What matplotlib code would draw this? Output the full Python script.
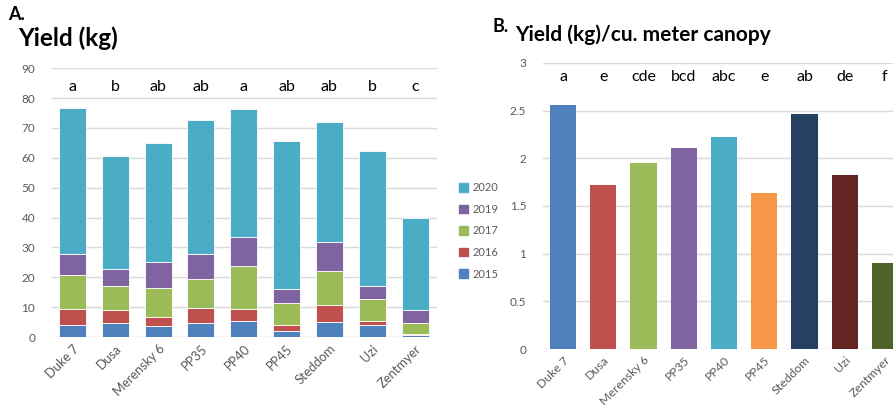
import matplotlib
matplotlib.use("Agg")
from matplotlib import pyplot as plt
from matplotlib.patches import Patch
import numpy as np

plt.rcParams["font.family"] = ["Lato", "DejaVu Sans"]

# cultivars (same order in both panels)
cultivars = ["Duke 7", "Dusa", "Merensky 6", "PP35", "PP40", "PP45", "Steddom", "Uzi", "Zentmyer"]

# panel A: yield (kg) per year, stacked
years = ["2015", "2016", "2017", "2019", "2020"]
yield_2015 = [4.1, 4.6, 3.8, 4.6, 5.2, 2.1, 5.0, 4.0, 0.6]
yield_2016 = [5.2, 4.4, 2.8, 5.2, 4.1, 1.8, 5.6, 1.2, 0.4]
yield_2017 = [11.4, 8.1, 9.8, 9.6, 14.6, 7.5, 11.4, 7.6, 3.7]
yield_2019 = [7.2, 5.6, 8.8, 8.5, 9.7, 4.8, 9.9, 4.4, 4.5]
yield_2020 = [48.8, 38.0, 39.7, 44.9, 42.7, 49.4, 40.0, 45.1, 30.5]
letters_a = ["a", "b", "ab", "ab", "a", "ab", "ab", "b", "c"]

# panel B: yield (kg) per cubic meter canopy
yield_per_m3 = [2.56, 1.72, 1.95, 2.11, 2.22, 1.64, 2.46, 1.83, 0.90]
letters_b = ["a", "e", "cde", "bcd", "abc", "e", "ab", "de", "f"]

year_colors = ["#4F81BD", "#C0504D", "#9BBB59", "#8064A2", "#4BACC6"]
bar_colors_b = ["#4F81BD", "#C0504D", "#9BBB59", "#8064A2", "#4BACC6",
                "#F79646", "#264062", "#632523", "#4F6228"]

grid_col = "#D9D9D9"
tick_col = "#595959"

fig = plt.figure(figsize=(8.93, 4.08), dpi=100)
axA = fig.add_axes([0.0582, 0.174, 0.431, 0.659])
axB = fig.add_axes([0.608, 0.1446, 0.392, 0.701])

x = np.arange(len(cultivars))


def style_axis(ax, xsize):
    for s in ax.spines.values():
        s.set_visible(False)
    ax.tick_params(length=0, colors=tick_col, labelsize=8.5)
    ax.yaxis.grid(True, color=grid_col, linewidth=1)
    ax.set_axisbelow(True)
    ax.set_xticks(x)
    ax.set_xticklabels(cultivars, rotation=45, ha="right", rotation_mode="anchor",
                       fontsize=xsize, color=tick_col)
    ax.tick_params(axis="y", pad=12)
    ax.tick_params(axis="x", pad=4)


# --- panel A ---
stack = [yield_2015, yield_2016, yield_2017, yield_2019, yield_2020]
bottom = np.zeros(len(cultivars))
for vals, col, yr in zip(stack, year_colors, years):
    axA.bar(x, vals, 0.63, bottom=bottom, color=col, edgecolor="white",
            linewidth=0.6, label=yr)
    bottom += np.array(vals)

style_axis(axA, 9.3)
axA.set_xlim(-0.48, 8.51)
axA.set_ylim(0, 90)
axA.set_yticks(range(0, 91, 10))
for xi, lab in zip(x, letters_a):
    axA.text(xi, 83.7, lab, ha="center", va="center", fontsize=11.5)

handles = [Patch(color=c, label=y) for c, y in zip(year_colors, years)][::-1]
leg = fig.legend(handles=handles, loc="center left", bbox_to_anchor=(0.503, 0.434),
                 frameon=False, fontsize=8, handlelength=0.8, handleheight=0.8,
                 handletextpad=0.4, labelspacing=0.95)
for t in leg.get_texts():
    t.set_color(tick_col)

fig.text(0.009, 0.985, "A.", fontsize=13, fontweight="bold", va="top")
fig.text(0.02, 0.935, "Yield (kg)", fontsize=17.5, fontweight="bold", va="top")

# --- panel B ---
axB.bar(x, yield_per_m3, 0.65, color=bar_colors_b)
style_axis(axB, 8.8)
axB.set_xlim(-0.5, 8.2)
axB.set_ylim(0, 3)
axB.set_yticks([0, 0.5, 1, 1.5, 2, 2.5, 3])
axB.set_yticklabels(["0", "0.5", "1", "1.5", "2", "2.5", "3"])
for xi, lab in zip(x, letters_b):
    axB.text(xi, 2.856, lab, ha="center", va="center", fontsize=11.5)

fig.text(0.551, 0.955, "B.", fontsize=13, fontweight="bold", va="top")
fig.text(0.577, 0.94, "Yield (kg)/cu. meter canopy", fontsize=15, fontweight="bold", va="top")

fig.savefig("out.png", dpi=100)
